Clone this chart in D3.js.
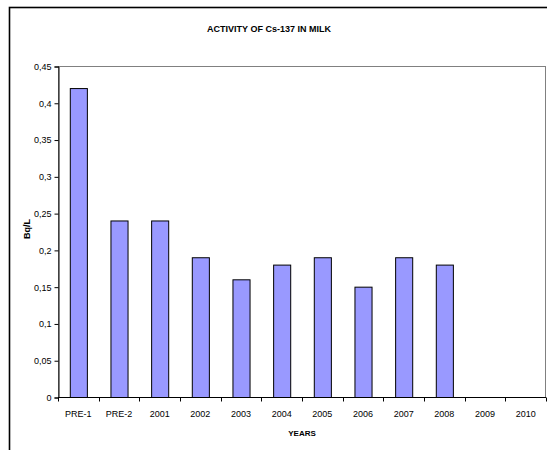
<!DOCTYPE html>
<html>
<head>
<meta charset="utf-8">
<script src="https://cdn.jsdelivr.net/npm/d3@7"></script>
<style>
  html, body { margin: 0; padding: 0; background: #fff; }
  svg { display: block; font-family: Arial, "Liberation Sans", sans-serif; }
</style>
</head>
<body>
<svg id="chart" width="547" height="450"></svg>
<script>
// Cs-137 activity in milk, Bq/L per period
const categories = ["PRE-1", "PRE-2", "2001", "2002", "2003", "2004", "2005", "2006", "2007", "2008", "2009", "2010"];
const activity = [0.42, 0.24, 0.24, 0.19, 0.16, 0.18, 0.19, 0.15, 0.19, 0.18, null, null];
const yTicks = [0, 0.05, 0.1, 0.15, 0.2, 0.25, 0.3, 0.35, 0.4, 0.45];
const tickFormat = d => String(+d.toFixed(2)).replace(".", ",");

const svg = d3.select("#chart");
const plot = { left: 58, right: 546, top: 66, bottom: 397 };

// outer chart frame
svg.append("rect")
  .attr("x", 9.5).attr("y", 7.5)
  .attr("width", 560).attr("height", 460)
  .attr("fill", "none").attr("stroke", "#000").attr("stroke-width", 1.6);

const x = d3.scaleBand()
  .domain(categories)
  .range([plot.left, plot.right])
  .paddingInner(0.58)
  .paddingOuter(0.29);

const y = d3.scaleLinear()
  .domain([0, 0.45])
  .range([plot.bottom, plot.top]);

// plot area border
svg.append("rect")
  .attr("x", plot.left + 0.5).attr("y", plot.top + 0.5)
  .attr("width", plot.right - plot.left - 1).attr("height", plot.bottom - plot.top)
  .attr("fill", "#fff").attr("stroke", "#808080").attr("stroke-width", 1);

// bars
const rows = categories.map((c, i) => ({ c, v: activity[i] })).filter(d => d.v != null);
svg.append("g").selectAll("rect").data(rows).join("rect")
  .attr("x", d => x(d.c) + 0.5)
  .attr("y", d => y(d.v) + 0.5)
  .attr("width", x.bandwidth())
  .attr("height", d => y(0) - y(d.v))
  .attr("fill", "#9999FF")
  .attr("stroke", "#000")
  .attr("stroke-width", 1);

// y axis
const yAxis = d3.axisLeft(y).tickValues(yTicks).tickFormat(tickFormat).tickSize(4).tickPadding(3);
const gy = svg.append("g").attr("transform", `translate(${plot.left + 0.5},0.5)`).call(yAxis);
gy.select(".domain").attr("stroke", "#000");
gy.selectAll("text").attr("font-size", 9).attr("fill", "#000")
  .attr("font-family", "Arial, 'Liberation Sans', sans-serif");

// x axis: labels under each category, ticks between categories
const gx = svg.append("g").attr("transform", `translate(0,${plot.bottom + 0.5})`);
gx.append("line")
  .attr("x1", plot.left).attr("x2", plot.right)
  .attr("stroke", "#000");
const gap = (x.step() - x.bandwidth()) / 2;
const bounds = categories.map(c => x(c) - gap).concat([x(categories[categories.length - 1]) + x.bandwidth() + gap]);
gx.selectAll("line.tick").data(bounds).join("line")
  .attr("class", "tick")
  .attr("x1", d => Math.round(d) + 0.5).attr("x2", d => Math.round(d) + 0.5)
  .attr("y1", 0).attr("y2", 4)
  .attr("stroke", "#000");
gx.selectAll("text").data(categories).join("text")
  .attr("x", d => x(d) + x.bandwidth() / 2)
  .attr("y", 19)
  .attr("text-anchor", "middle")
  .attr("font-size", 9)
  .text(d => d);

// titles
svg.append("text")
  .attr("x", 269).attr("y", 32)
  .attr("text-anchor", "middle")
  .attr("font-size", 9).attr("font-weight", "bold")
  .text("ACTIVITY OF Cs-137 IN MILK");

svg.append("text")
  .attr("x", 302).attr("y", 436)
  .attr("text-anchor", "middle")
  .attr("font-size", 8).attr("font-weight", "bold")
  .text("YEARS");

svg.append("text")
  .attr("transform", "translate(30,229) rotate(-90)")
  .attr("text-anchor", "middle")
  .attr("font-size", 9).attr("font-weight", "bold")
  .text("Bq/L");
</script>
</body>
</html>
